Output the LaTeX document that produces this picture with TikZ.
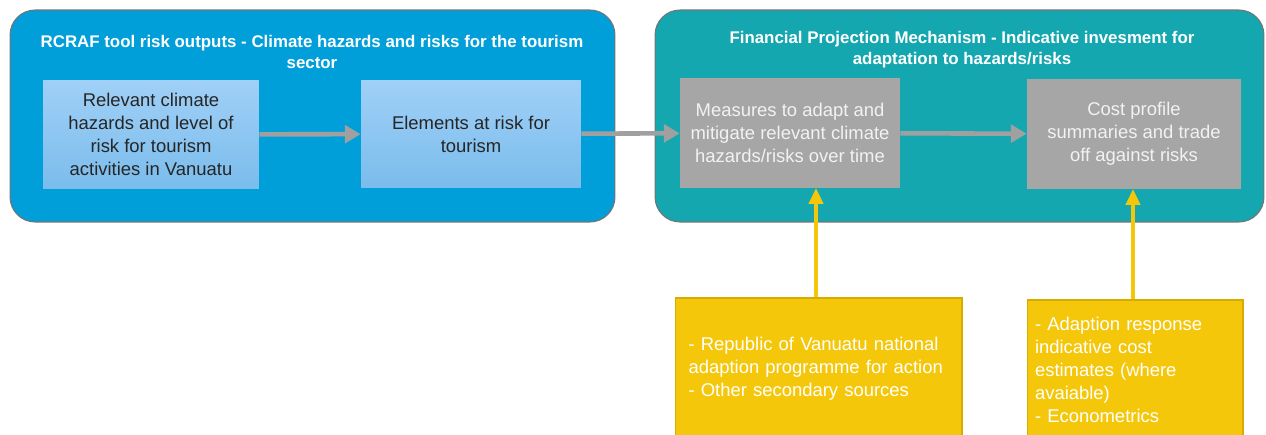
\documentclass[tikz,border=0pt]{standalone}
\usepackage{fontspec}
\setmainfont{Liberation Sans}
\usetikzlibrary{arrows.meta}
\definecolor{riskblue}{RGB}{0,159,218}
\definecolor{finteal}{RGB}{20,167,176}
\definecolor{boxgray}{RGB}{166,166,166}
\definecolor{srcyellow}{RGB}{245,199,10}
\definecolor{srcedge}{RGB}{214,172,0}
\definecolor{lighttop}{RGB}{160,208,247}
\definecolor{lightbot}{RGB}{122,188,236}
\definecolor{arrowgray}{RGB}{160,160,160}
\definecolor{darktext}{RGB}{38,38,38}

\begin{document}
\begin{tikzpicture}[x=0.02cm,y=-0.02cm, font=\fontsize{10.5}{13}\selectfont]
	\tikzstyle{panel}=[rounded corners=0.5cm, draw=black!55, line width=0.6pt, inner sep=0pt]
	\tikzstyle{title}=[text=white, align=center, font=\bfseries\fontsize{9.6}{12}\selectfont]
	\tikzstyle{riskbox}=[top color=lighttop, bottom color=lightbot, text=darktext, align=center, inner sep=0pt]
	\tikzstyle{finbox}=[fill=boxgray, text=white!95!black, align=center, inner sep=0pt]
	\tikzstyle{srcbox}=[fill=srcyellow, draw=srcedge, line width=0.6pt, text=white, align=left, inner sep=0pt]
	\tikzstyle{gray arrow}=[draw=arrowgray, line width=2.6pt, -{Triangle[length=9pt,width=10pt]}]
	\tikzstyle{yellow arrow}=[draw=srcyellow, line width=2pt, -{Triangle[length=9pt,width=8pt]}]

	\useasboundingbox (0,0) rectangle (1266,435);
	\clip (0,0) rectangle (1266,435);

	% Draw the two panels
	\node[panel, fill=riskblue, minimum width=12.1cm, minimum height=4.24cm] (P-risk) at (312.5,116) {};
	\node[panel, fill=finteal, minimum width=12.18cm, minimum height=4.24cm] (P-fin) at (959.5,116) {};

	% Panel titles
	\node[title] (T-risk) at (312,52) {RCRAF tool risk outputs - Climate hazards and risks for the tourism\\sector};
	\node[title] (T-fin) at (962,50) {Financial Projection Mechanism - Indicative invesment for\\adaptation to hazards/risks};

	% Draw the risk boxes
	\node[riskbox, minimum width=4.32cm, minimum height=2.18cm] (A) at (151,134.5)
	{Relevant climate\\hazards and level of\\risk for tourism\\activities in Vanuatu};
	\node[riskbox, minimum width=4.4cm, minimum height=2.16cm] (B) at (471,134)
	{Elements at risk for\\tourism};

	% Draw the projection boxes
	\node[finbox, minimum width=4.4cm, minimum height=2.2cm] (C) at (790,133)
	{Measures to adapt and\\mitigate relevant climate\\hazards/risks over time};
	\node[finbox, minimum width=4.28cm, minimum height=2.2cm] (D) at (1134,134)
	{Cost profile\\summaries and trade\\off against risks};

	% Draw the source boxes
	\node[srcbox, minimum width=5.74cm, minimum height=2.84cm, text width=5.2cm] (E) at (818.5,369)
	{- Republic of Vanuatu national\\adaption programme for action\\- Other secondary sources};
	\node[srcbox, minimum width=4.32cm, minimum height=2.8cm, text width=4cm] (F) at (1135,370)
	{- Adaption response\\indicative cost\\estimates (where\\avaiable)\\- Econometrics};

	% Connect the boxes
	\foreach \source/\dest in {A/B, B/C, C/D}
	\draw[gray arrow] (\source) -- (\dest);

	% Connect the sources
	\coordinate (C-in) at (816,188);
	\coordinate (D-in) at (1133,189);
	\draw[yellow arrow] (E.north -| C-in) -- (C-in);
	\draw[yellow arrow] (F.north -| D-in) -- (D-in);

\end{tikzpicture}
\end{document}
